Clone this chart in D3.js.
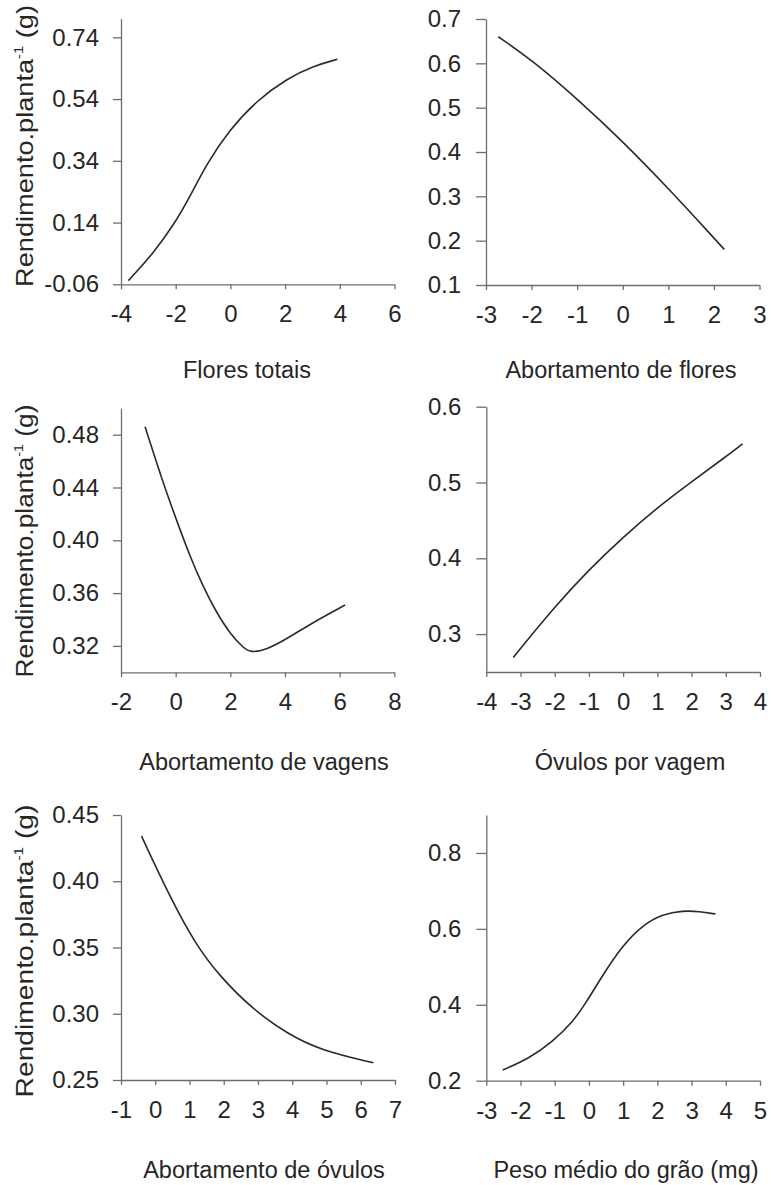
<!DOCTYPE html>
<html>
<head>
<meta charset="utf-8">
<script src="https://cdn.jsdelivr.net/npm/d3@7"></script>
<style>
  html, body { margin: 0; padding: 0; background: #ffffff; }
  svg { display: block; font-family: "Liberation Sans", Arial, sans-serif; }
</style>
</head>
<body>
<svg id="chart" width="771" height="1185"></svg>
<script>
// ---------- DATA ----------
const titles = ["Flores totais", "Abortamento de flores", "Abortamento de vagens",
                "Óvulos por vagem", "Abortamento de óvulos", "Peso médio do grão (mg)"];
const yLabelMain = "Rendimento.planta";
const yLabelSup = "-1";
const yLabelUnit = " (g)";

// Panel 1: Flores totais
const florTotX = [-3.73, -2.82, -2.03, -1.48, -0.87, -0.02, 0.96, 2.06, 3.03, 3.91];
const florTotY = [-0.048, 0.040, 0.138, 0.224, 0.330, 0.442, 0.535, 0.606, 0.647, 0.669];
const florTotXTicks = [-4, -2, 0, 2, 4, 6];
const florTotYTicks = [-0.06, 0.14, 0.34, 0.54, 0.74];
const florTotXDomain = [-4, 6];
const florTotYDomain = [-0.06, 0.80];

// Panel 2: Abortamento de flores
const abFlorX = [-2.73, -2, -1, 0, 1, 2, 2.23];
const abFlorY = [0.66, 0.608, 0.52, 0.424, 0.318, 0.206, 0.18];
const abFlorXTicks = [-3, -2, -1, 0, 1, 2, 3];
const abFlorYTicks = [0.1, 0.2, 0.3, 0.4, 0.5, 0.6, 0.7];
const abFlorXDomain = [-3, 3];
const abFlorYDomain = [0.1, 0.7];

// Panel 3: Abortamento de vagens
const abVagX = [-1.12, -0.5, 0, 0.5, 1, 1.5, 2, 2.5, 2.75, 3.3, 4, 5, 6.2];
const abVagY = [0.486, 0.446, 0.417, 0.389, 0.365, 0.345, 0.329, 0.318, 0.315, 0.317, 0.3245, 0.3375, 0.351];
const abVagXTicks = [-2, 0, 2, 4, 6, 8];
const abVagYTicks = [0.32, 0.36, 0.40, 0.44, 0.48];
const abVagXDomain = [-2, 8];
const abVagYDomain = [0.30, 0.50];

// Panel 4: Óvulos por vagem
const ovVagX = [-3.21, -3, -2, -1, 0, 1, 2, 3, 3.49];
const ovVagY = [0.269, 0.281, 0.336, 0.385, 0.428, 0.467, 0.501, 0.534, 0.551];
const ovVagXTicks = [-4, -3, -2, -1, 0, 1, 2, 3, 4];
const ovVagYTicks = [0.3, 0.4, 0.5, 0.6];
const ovVagXDomain = [-4, 4];
const ovVagYDomain = [0.25, 0.6];

// Panel 5: Abortamento de óvulos
const abOvX = [-0.40, 0.43, 1.16, 1.89, 2.86, 3.84, 4.81, 6.37];
const abOvY = [0.434, 0.388, 0.353, 0.328, 0.303, 0.2852, 0.2726, 0.263];
const abOvXTicks = [-1, 0, 1, 2, 3, 4, 5, 6, 7];
const abOvYTicks = [0.25, 0.30, 0.35, 0.40, 0.45];
const abOvXDomain = [-1, 7];
const abOvYDomain = [0.25, 0.45];

// Panel 6: Peso médio do grão (mg)
const pesoX = [-2.52, -1.74, -1.06, -0.47, -0.085, 0.40, 0.99, 1.57, 2.16, 2.74, 3.23, 3.70];
const pesoY = [0.228, 0.259, 0.303, 0.355, 0.405, 0.478, 0.557, 0.610, 0.639, 0.648, 0.646, 0.639];
const pesoXTicks = [-3, -2, -1, 0, 1, 2, 3, 4, 5];
const pesoYTicks = [0.2, 0.4, 0.6, 0.8];
const pesoXDomain = [-3, 5];
const pesoYDomain = [0.2, 0.9];

// ---------- LAYOUT ----------
const layout = [
  { left: 121,   right: 394.5, top: 18.8,  bottom: 284.3,  fmt: ".2f", yLab: true,  labCy: 146, labLen: 282, titleX: 247, titleY: 378 },
  { left: 486,   right: 759.5, top: 19,    bottom: 285,    fmt: ".1f", yLab: false, titleX: 621, titleY: 378 },
  { left: 121,   right: 394.3, top: 408.3, bottom: 672.3,  fmt: ".2f", yLab: true,  labCy: 541, labLen: 273, titleX: 264, titleY: 770 },
  { left: 486.3, right: 760,   top: 406.7, bottom: 672,    fmt: ".1f", yLab: false, titleX: 630, titleY: 770 },
  { left: 121,   right: 395,   top: 815,   bottom: 1080,   fmt: ".2f", yLab: true,  labCy: 951, labLen: 293, titleX: 264, titleY: 1178 },
  { left: 486.3, right: 760,   top: 815,   bottom: 1080.7, fmt: ".1f", yLab: false, titleX: 626, titleY: 1178 }
];

const panels = [
  { xs: florTotX, ys: florTotY, xt: florTotXTicks, yt: florTotYTicks, xd: florTotXDomain, yd: florTotYDomain },
  { xs: abFlorX,  ys: abFlorY,  xt: abFlorXTicks,  yt: abFlorYTicks,  xd: abFlorXDomain,  yd: abFlorYDomain },
  { xs: abVagX,   ys: abVagY,   xt: abVagXTicks,   yt: abVagYTicks,   xd: abVagXDomain,   yd: abVagYDomain },
  { xs: ovVagX,   ys: ovVagY,   xt: ovVagXTicks,   yt: ovVagYTicks,   xd: ovVagXDomain,   yd: ovVagYDomain },
  { xs: abOvX,    ys: abOvY,    xt: abOvXTicks,    yt: abOvYTicks,    xd: abOvXDomain,    yd: abOvYDomain },
  { xs: pesoX,    ys: pesoY,    xt: pesoXTicks,    yt: pesoYTicks,    xd: pesoXDomain,    yd: pesoYDomain }
];

const textColor = "#262626";
const axisColor = "#6e6e6e";
const lineColor = "#2a2a2a";
const tickFont = 24;
const titleFont = 23.5;

const svg = d3.select("#chart");
svg.append("rect").attr("width", 771).attr("height", 1185).attr("fill", "#ffffff");

panels.forEach((p, i) => {
  const L = layout[i];
  const x = d3.scaleLinear().domain(p.xd).range([L.left, L.right]);
  const y = d3.scaleLinear().domain(p.yd).range([L.bottom, L.top]);
  const g = svg.append("g");

  // X axis
  const xAxis = d3.axisBottom(x).tickValues(p.xt).tickSize(5).tickSizeOuter(0)
    .tickPadding(16).tickFormat(d => d3.format("d")(d).replace("−", "-"));
  const gx = g.append("g").attr("transform", `translate(0,${L.bottom})`).call(xAxis);
  gx.select(".domain").attr("stroke", axisColor).attr("stroke-width", 1.3);
  gx.selectAll(".tick line").attr("stroke", axisColor).attr("stroke-width", 1.3);
  gx.selectAll(".tick text").attr("fill", textColor).attr("font-size", tickFont)
    .attr("font-family", "Liberation Sans, Arial, sans-serif").attr("dy", "0.71em");

  // Y axis
  const yAxis = d3.axisLeft(y).tickValues(p.yt).tickSize(i % 2 === 0 ? 8 : 10).tickSizeOuter(0)
    .tickPadding(i % 2 === 0 ? 14 : 15).tickFormat(d => d3.format(L.fmt)(d).replace("−", "-"));
  const gy = g.append("g").attr("transform", `translate(${L.left},0)`).call(yAxis);
  gy.select(".domain").attr("stroke", axisColor).attr("stroke-width", 1.3);
  gy.selectAll(".tick line").attr("stroke", axisColor).attr("stroke-width", 1.3);
  gy.selectAll(".tick text").attr("fill", textColor).attr("font-size", tickFont)
    .attr("font-family", "Liberation Sans, Arial, sans-serif");

  // curve
  const pts = p.xs.map((v, k) => [v, p.ys[k]]);
  const line = d3.line().x(d => x(d[0])).y(d => y(d[1])).curve(d3.curveBasis);
  g.append("path").datum(pts).attr("d", line).attr("fill", "none")
    .attr("stroke", lineColor).attr("stroke-width", 1.6);

  // X title
  g.append("text").attr("x", L.titleX).attr("y", L.titleY).attr("text-anchor", "middle")
    .attr("font-size", titleFont).attr("fill", textColor).text(titles[i]);

  // Y label
  if (L.yLab) {
    const t = g.append("text").attr("text-anchor", "middle").attr("fill", textColor)
      .attr("font-size", 24);
    t.append("tspan").text(yLabelMain);
    t.append("tspan").attr("font-size", 13).attr("dy", -10).text(yLabelSup);
    t.append("tspan").attr("dy", 10).text(yLabelUnit);
    const len = t.node().getComputedTextLength();
    const sx = L.labLen / len;
    t.attr("transform", `translate(33,${L.labCy}) rotate(-90) scale(${sx},1)`);
  }
});
</script>
</body>
</html>
